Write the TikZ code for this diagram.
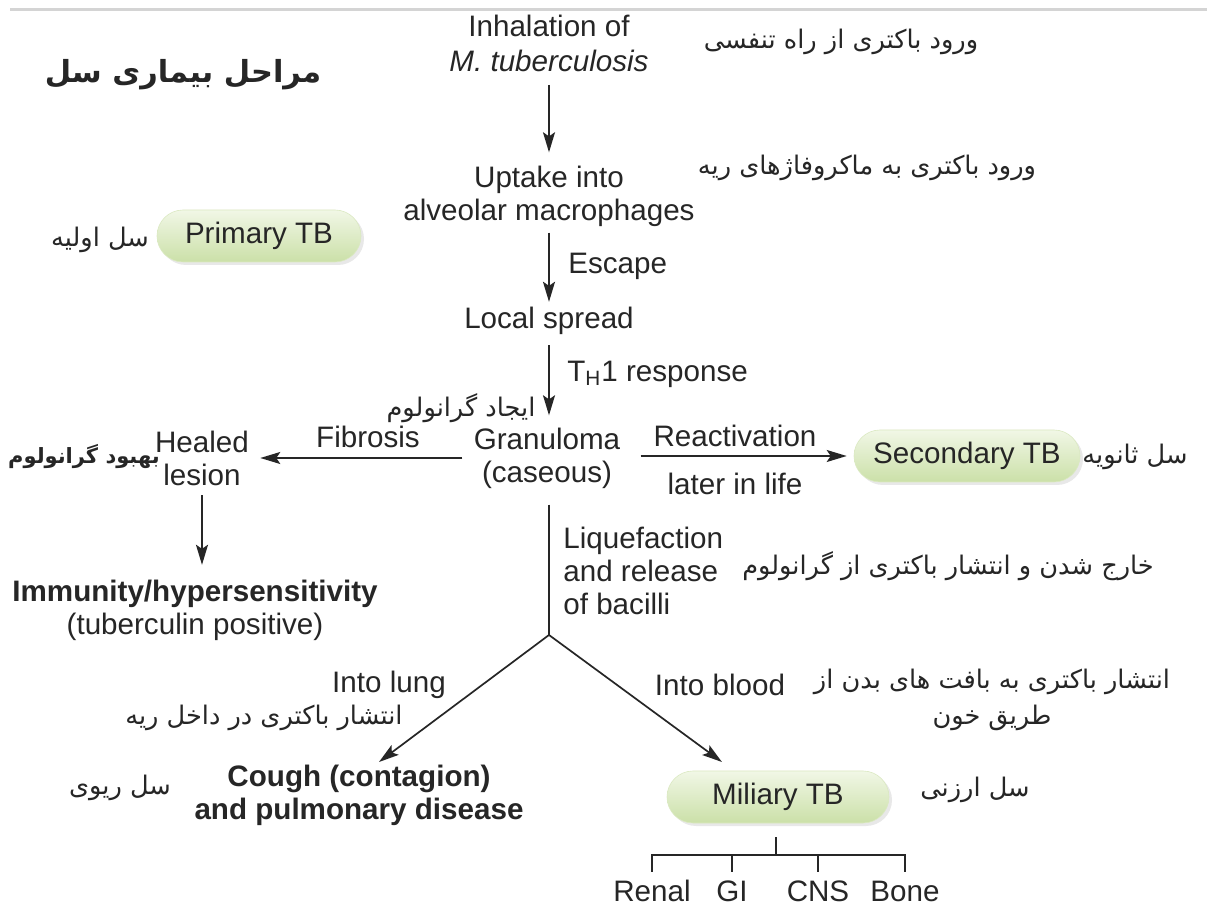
\documentclass[tikz,border=0pt]{standalone}
\usepackage{fontspec}
\setmainfont{Liberation Sans}
\newfontfamily\fa[Script=Arabic]{DejaVu Sans}
\TeXXeTstate=1
\usetikzlibrary{arrows.meta,shadows,shapes.misc}

\definecolor{ink}{HTML}{262626}
\definecolor{rule}{HTML}{D4D4D4}
\definecolor{pillA}{HTML}{F1F7E6}
\definecolor{pillB}{HTML}{CBE0A8}

\tikzset{
  lbl/.style={font=\fontsize{14.8}{16.5}\selectfont, text=ink, align=center, inner sep=1pt},
  farsi/.style={font=\fa\fontsize{12.8}{18}\selectfont, text=ink, align=center, inner sep=1pt},
  flow/.style={draw=ink, line width=0.85pt, -{Stealth[length=10pt,width=6pt,inset=2pt]}},
  plain/.style={draw=ink, line width=0.85pt},
  pill/.style={rounded rectangle, minimum height=26pt, inner sep=2pt,
    top color=pillA, bottom color=pillB, draw=pillB!70!white, line width=0.3pt,
    font=\fontsize{14.8}{16}\selectfont, text=ink,
    drop shadow={shadow xshift=1.5pt, shadow yshift=-1.5pt, opacity=0.18, fill=black!50}},
  leaf/.style={lbl, text height=11pt, text depth=3pt}
}

\begin{document}
\begin{tikzpicture}[x=0.5pt,y=-0.5pt]
\useasboundingbox (0,0) rectangle (1207,909);
\fill[white] (0,0) rectangle (1207,909);
\draw[rule, line width=1.5pt] (10,10) -- (1207,10);

% ---- main column ----
\node[lbl, font=\fontsize{14.8}{17.5}\selectfont] (inh) at (549,43) {Inhalation of\\\textit{M. tuberculosis}};
\node[lbl] (upt) at (549,196) {Uptake into\\alveolar macrophages};
\node[lbl] (loc) at (549,321) {Local spread};
\node[lbl] (gra) at (547,458) {Granuloma\\(caseous)};
\node[lbl] (hea) at (202,458) {Healed\\lesion};
\node[lbl] (imm) at (195,610) {\textbf{Immunity/hypersensitivity}\\(tuberculin positive)};
\node[lbl,font=\bfseries\fontsize{14.8}{16.5}\selectfont] (cou) at (359,795) {Cough (contagion)\\and pulmonary disease};

% ---- stage pills ----
\node[pill, minimum width=106pt] (pri) at (259,236) {Primary TB};
\node[pill, minimum width=117pt] (sec) at (967,456) {Secondary TB};
\node[pill, minimum width=115pt] (mil) at (778,797) {Miliary TB};

% ---- edge labels ----
\node[lbl, anchor=west] (esc) at (566,266) {Escape};
\node[lbl, anchor=west] (th1) at (565,374) {T\textsubscript{H}1 response};
\node[lbl] (fib) at (368,437) {Fibrosis};
\node[lbl] (rea) at (735,436) {Reactivation};
\node[lbl] (lat) at (735,484) {later in life};
\node[lbl, anchor=west, align=left] (liq) at (561,571) {Liquefaction\\and release\\of bacilli};
\node[lbl] (ilu) at (389,685) {Into lung};
\node[lbl] (ibl) at (720,685) {Into blood};

% ---- organ leaves ----
\node[leaf] (ren) at (652,893) {Renal};
\node[leaf] (gi)  at (732,893) {GI};
\node[leaf] (cns) at (818,893) {CNS};
\node[leaf] (bon) at (905,893) {Bone};

% ---- Persian notes ----
\node[farsi, font=\fa\bfseries\fontsize{15.2}{20}\selectfont] (ttl) at (183,75) {\beginR مراحل بیماری سل\endR};
\node[farsi] (n1) at (841,42) {\beginR ورود باکتری از راه تنفسی\endR};
\node[farsi] (n2) at (867,168) {\beginR ورود باکتری به ماکروفاژهای ریه\endR};
\node[farsi] (n3) at (100,240) {\beginR سل اولیه\endR};
\node[farsi] (n4) at (461,408) {\beginR ایجاد گرانولوم\endR};
\node[farsi, font=\fa\bfseries\fontsize{10.5}{18}\selectfont] (n5) at (84,457) {\beginR بهبود گرانولوم\endR};
\node[farsi] (n6) at (1135,457) {\beginR سل ثانویه\endR};
\node[farsi] (n7) at (948,566) {\beginR خارج شدن و انتشار باکتری از گرانولوم\endR};
\node[farsi] (n8) at (992,700) {\beginR انتشار باکتری به بافت های بدن از\endR\\\beginR طریق خون\endR};
\node[farsi] (n9) at (264,718) {\beginR انتشار باکتری در داخل ریه\endR};
\node[farsi] (n10) at (120,788) {\beginR سل ریوی\endR};
\node[farsi] (n11) at (975,790) {\beginR سل ارزنی\endR};

% ---- connectors ----
\draw[flow, shorten <=5.5pt, shorten >=5.5pt] (inh.south) -- (upt.north);
\draw[flow, shorten <=2pt, shorten >=1.5pt] (upt.south) -- (loc.north);
\draw[flow, shorten <=4pt, shorten >=5pt] (loc.south) -- (loc.south |- gra.north);
\draw[flow, shorten <=4.5pt, shorten >=4.5pt] (gra.west |- hea.east) -- (hea.east);
\draw[flow, shorten <=9pt, shorten >=3.5pt] (gra.east |- sec.west) -- (sec.west);
\draw[flow, shorten <=3.75pt, shorten >=6.25pt] (hea.south) -- (hea.south |- imm.north);

\coordinate (split) at (549,635);
\coordinate (lungtip) at (379,762);
\coordinate (bloodtip) at (722,762);
\draw[plain, shorten <=7pt] (loc.south |- gra.south) -- (split);
\draw[flow] (split) -- (lungtip);
\draw[flow] (split) -- (bloodtip);

% ---- organ tree below Miliary TB ----
\coordinate (hub) at (776,855);
\draw[plain] (mil.south -| hub) ++(0,14) -- (hub);
\foreach \o in {ren,gi,cns,bon}
  \draw[plain] ([yshift=2.5pt]\o.north) |- (hub);
\end{tikzpicture}
\end{document}
